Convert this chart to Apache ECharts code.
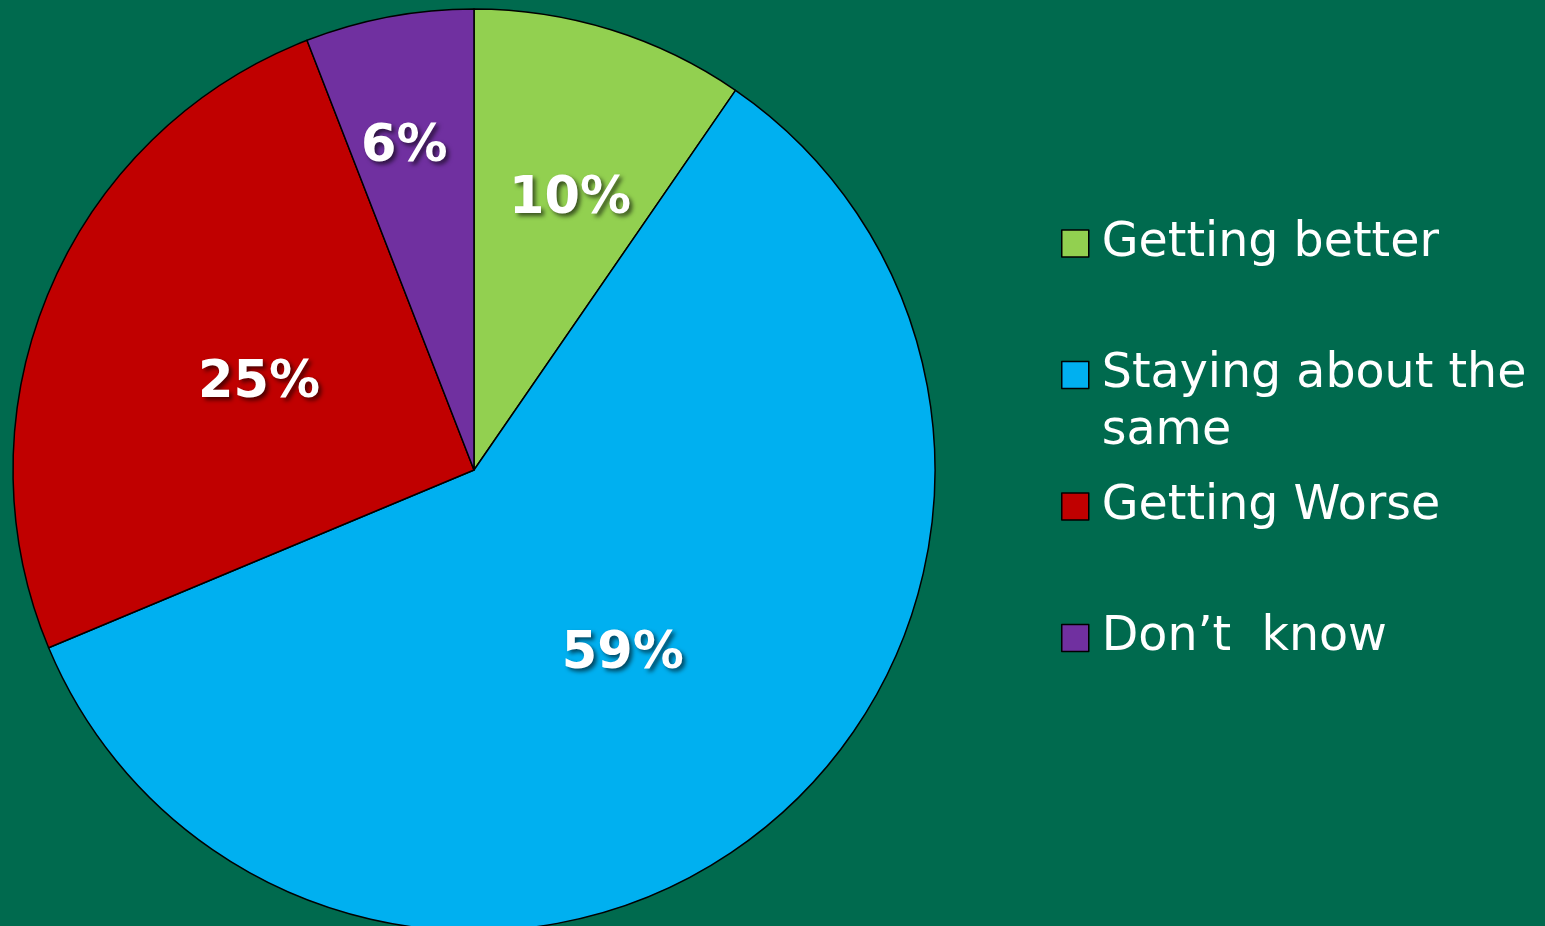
<!DOCTYPE html>
<html>
<head>
<meta charset="utf-8">
<script src="https://cdn.jsdelivr.net/npm/echarts@6/dist/echarts.min.js"></script>
<style>
html,body{margin:0;padding:0;background:#006A4E;}
#chart{width:1545px;height:926px;}
</style>
</head>
<body>
<div id="chart"></div>
<script>
// Data
const categories = ['Getting better', 'Staying about the same', 'Getting Worse', 'Don\u2019t  know'];
const values = [9.6, 59.1, 25.4, 5.9];
const colors = ['#92D050', '#00B0F0', '#C00000', '#7030A0'];

// label placement per slice: fraction of radius and angular nudge (degrees)
const labelRadiusFrac = [0.625, 0.5, 0.5, 0.72];
const labelAngleNudge = [2.0, -0.5, 0, -1.4];

const total = values.reduce((a, b) => a + b, 0);
const midAngles = [];
let cum = 0;
values.forEach(v => { midAngles.push((cum + v / 2) / total * 2 * Math.PI); cum += v; });

const R = 461;

const chart = echarts.init(document.getElementById('chart'));
chart.setOption({
  backgroundColor: '#006A4E',
  animation: false,
  legend: {
    orient: 'vertical',
    left: 1061,
    top: 155,
    padding: 0,
    itemWidth: 27,
    itemHeight: 27,
    itemGap: -45.5,
    icon: 'rect',
    selectedMode: false,
    itemStyle: { borderColor: '#000', borderWidth: 1.5 },
    textStyle: {
      color: '#fff',
      fontFamily: 'DejaVu Sans',
      fontSize: 47.5,
      lineHeight: 57,
      width: 440,
      overflow: 'break',
      padding: [6, 0, 0, 8]
    },
    formatter: function (name) {
      return name === categories[1] ? '\n' + name : '\n' + name + '\n ';
    },
    data: categories
  },
  series: [{
    type: 'pie',
    center: [474, 470],
    radius: [0, R],
    startAngle: 90,
    clockwise: true,
    avoidLabelOverlap: false,
    itemStyle: { borderColor: '#000', borderWidth: 1.5 },
    label: {
      show: true,
      position: 'inside',
      color: '#fff',
      fontFamily: 'DejaVu Sans',
      fontWeight: 'bold',
      fontSize: 51,
      textShadowColor: 'rgba(0,0,0,0.6)',
      textShadowBlur: 4,
      textShadowOffsetX: 3,
      textShadowOffsetY: 3,
      formatter: p => Math.round(p.value) + '%'
    },
    labelLine: { show: false },
    labelLayout: function (params) {
      const i = params.dataIndex;
      const a = midAngles[i];
      const a2 = a + labelAngleNudge[i] * Math.PI / 180;
      const fr = labelRadiusFrac[i] * R, hr = 0.5 * R;
      return {
        dx: fr * Math.sin(a2) - hr * Math.sin(a),
        dy: -(fr * Math.cos(a2) - hr * Math.cos(a)) + 5
      };
    },
    data: categories.map((c, i) => ({ name: c, value: values[i], itemStyle: { color: colors[i] } }))
  }]
});
</script>
</body>
</html>
